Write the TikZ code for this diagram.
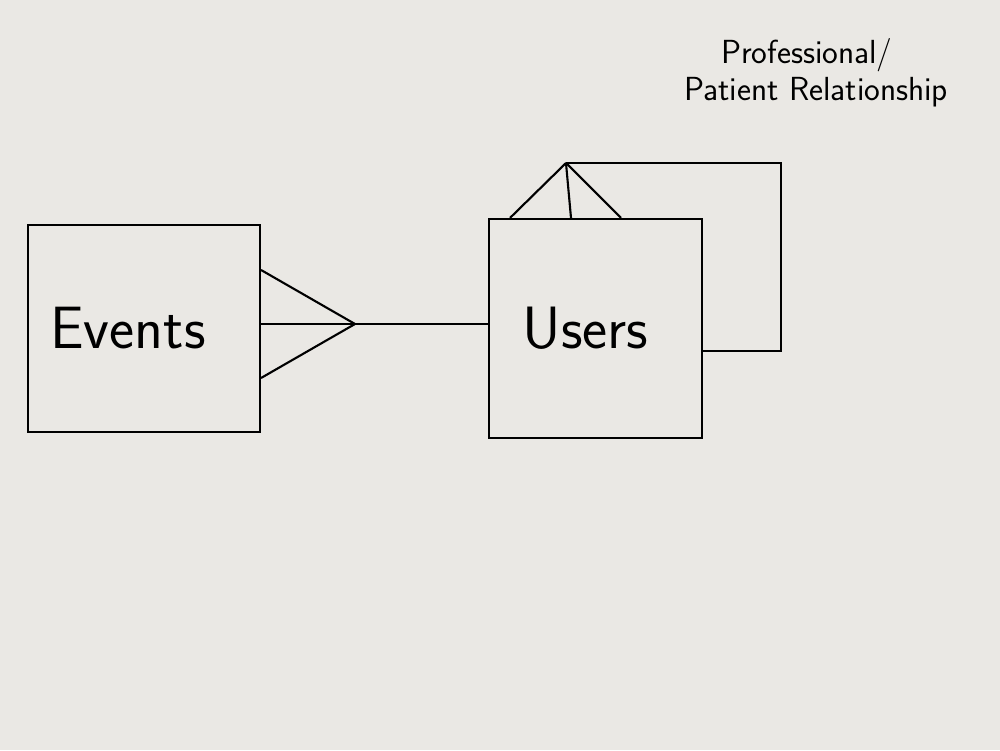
\documentclass[tikz,border=0pt]{standalone}
\usepackage{tikz}
\usetikzlibrary{
  positioning,  % Function "of" (e.g. [right=of x])
  calc,         % Calculations $...$
}
\definecolor{paper}{RGB}{234,232,228}
\tikzset{
  font=\sffamily,
  pen/.style={
    line width=1.2pt
  },
  my entity/.style={
    draw,
    rectangle,
    inner sep=0mm,
    font=\sffamily\fontsize{34}{40}\selectfont
  },
  my note/.style={
    align=left,
    inner sep=0mm,
    font=\sffamily\fontsize{19}{21}\selectfont
  }
}

\begin{document}
\begin{tikzpicture}[pen]
\fill[paper] (0,0) rectangle (20,15);
\useasboundingbox (0,0) rectangle (20,15);
\node[my entity,minimum width=4.64cm,minimum height=4.14cm] (events) at (2.88,8.43) {\hspace*{-0.64cm}Events};
\node[my entity,minimum width=4.26cm,minimum height=4.38cm] (users) [right=4.54cm of events] {\hspace*{-0.4cm}Users};
\node[my note,anchor=north west] (rel) at (13.66,14.25) {\hspace*{0.74cm}Professional/\\Patient Relationship};
\coordinate (efoot) at (7.1,8.52);
\coordinate (ufoot) at (11.32,11.74);
% many events per user
\draw (users.west |- efoot) -- (efoot);
\path (efoot)
    edge ($(events.east)+(0,1.17)$)
    edge (events.east |- efoot)
    edge ($(events.east)+(0,-0.99)$);
% self relation on users
\path (ufoot)
    edge (users.north -| 10.2,0)
    edge (users.north -| 11.42,0)
    edge (users.north -| 12.42,0);
\draw (ufoot) -| ($(users.east)+(1.56,-0.45)$) -- ($(users.east)+(0,-0.45)$);
\end{tikzpicture}
\end{document}
